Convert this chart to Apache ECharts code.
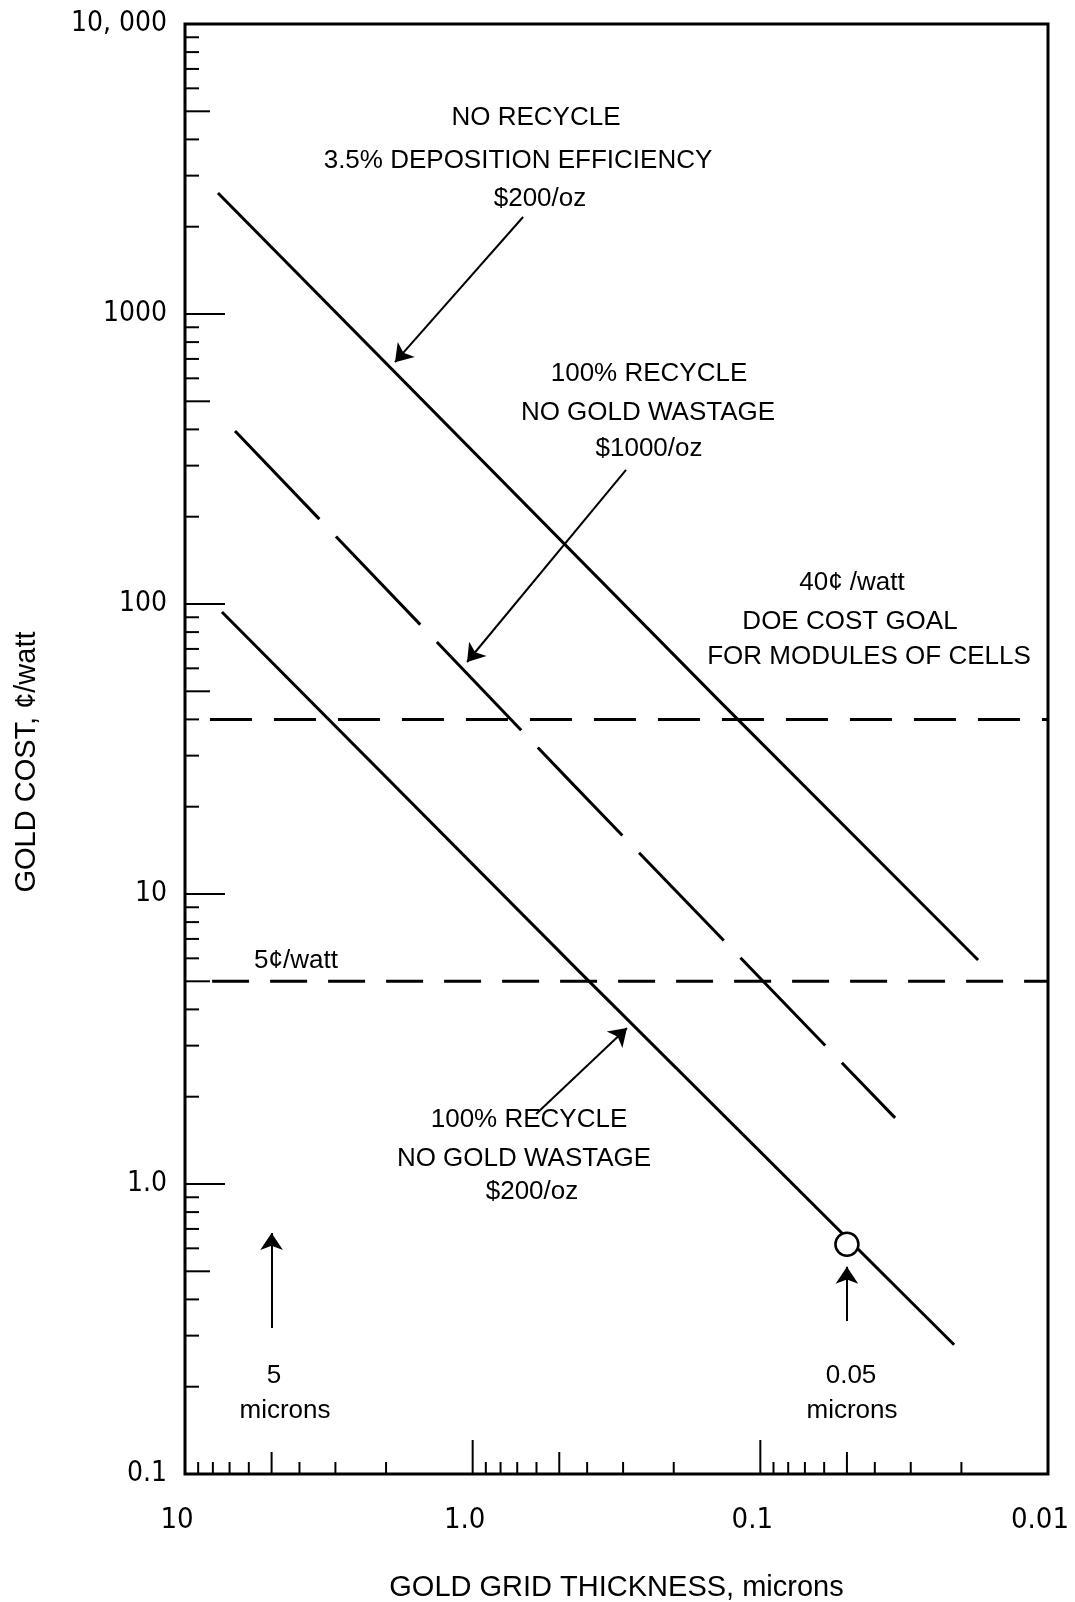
<!DOCTYPE html>
<html>
<head>
<meta charset="utf-8">
<script src="https://cdn.jsdelivr.net/npm/echarts@6/dist/echarts.min.js"></script>
<style>
html,body{margin:0;padding:0;background:#fff;}
#c{width:1075px;height:1602px;}
</style>
</head>
<body>
<div id="c"></div>
<script>
// ---- tick labels ----
const xTickValues = [10, 1, 0.1, 0.01];
const xTickLabels = ['10', '1.0', '0.1', '0.01'];
const yTickValues = [10000, 1000, 100, 10, 1, 0.1];
const yTickLabels = ['10, 000', '1000', '100', '10', '1.0', '0.1'];

// ---- tick marks (drawn on the bottom / left axes) ----
const xMajorTicks = [1, 0.1];
const xHalfTicks = [5, 0.5, 0.05];
const xMinorTicks = [9, 8, 7, 6, 4, 3, 2, 0.9, 0.8, 0.7, 0.6, 0.4, 0.3, 0.2, 0.09, 0.08, 0.07, 0.06, 0.04, 0.03, 0.02];
const yMajorTicks = [1000, 100, 10, 1];
const yHalfTicks = [5000, 500, 50, 5, 0.5];
const yMinorTicks = [9000, 8000, 7000, 6000, 4000, 3000, 2000, 900, 800, 700, 600, 400, 300, 200,
  90, 80, 70, 60, 40, 30, 20, 9, 8, 7, 6, 4, 3, 2, 0.9, 0.8, 0.7, 0.6, 0.4, 0.3, 0.2];

// ---- curves: thickness (microns) vs gold cost (cents/watt) ----
const noRecycleX = [7.68, 0.140, 0.0175];
const noRecycleY = [2613, 46.7, 5.92];
const recycle1000X = [6.70, 0.459, 0.0340];
const recycle1000Y = [395, 24.5, 1.69];
const recycle200X = [7.44, 0.424, 0.0212];
const recycle200Y = [93.8, 5.38, 0.279];

// ---- cost goals (horizontal dashed lines) ----
const goal40X = [8.19, 0.01];
const goal40Y = [40, 40];
const goal5X = [8.05, 0.01];
const goal5Y = [5, 5];

// ---- marked point (0.05 micron) ----
const markedX = [0.05];
const markedY = [0.62];

// ---- arrows: tail -> head ----
const arrowTailX = [0.668, 0.293, 0.602, 5, 0.05];
const arrowTailY = [2160, 290, 1.743, 0.319, 0.337];
const arrowHeadX = [1.862, 1.046, 0.2908, 5, 0.05];
const arrowHeadY = [682, 63.1, 3.45, 0.678, 0.518];

const NARROW = '"Liberation Sans Narrow","Arial Narrow","DejaVu Sans Condensed","Liberation Sans",sans-serif';
const SANS = '"Liberation Sans",Arial,sans-serif';

function labelFor(values, labels) {
  return function (v) {
    for (let i = 0; i < values.length; i++) {
      if (Math.abs(Math.log10(v) - Math.log10(values[i])) < 1e-6) return labels[i];
    }
    return '';
  };
}
function pairs(xs, ys) { return xs.map((x, i) => [x, ys[i]]); }

function tickSeries(axis, values, len) {
  return {
    type: 'custom', coordinateSystem: 'cartesian2d', silent: true, z: 5, clip: false,
    data: values.map(v => axis === 'x' ? [v, 0.1] : [10, v]),
    renderItem: function (params, api) {
      const p = api.coord([api.value(0), api.value(1)]);
      return {
        type: 'line',
        shape: axis === 'x'
          ? { x1: p[0], y1: p[1], x2: p[0], y2: p[1] - len }
          : { x1: p[0], y1: p[1], x2: p[0] + len, y2: p[1] },
        style: { stroke: '#000', lineWidth: 2 }
      };
    }
  };
}

function txt(text, x, y, size, family) {
  return {
    type: 'text', x: x, y: y, silent: true,
    style: { text: text, fill: '#000', fontSize: size, fontFamily: family || SANS, align: 'center', verticalAlign: 'middle' }
  };
}

const chart = echarts.init(document.getElementById('c'), null, { renderer: 'canvas', width: 1075, height: 1602 });

const curveStyle = { color: '#000', width: 3 };

chart.setOption({
  animation: false,
  backgroundColor: '#fff',
  grid: {
    left: 185, right: 27, top: 24, bottom: 128,
    show: true, borderColor: '#000', borderWidth: 3, backgroundColor: 'transparent',
    outerBoundsMode: 'none'
  },
  xAxis: {
    type: 'log', logBase: 10, min: 0.01, max: 10, inverse: true,
    axisLine: { show: false }, axisTick: { show: false }, splitLine: { show: false },
    minorTick: { show: false }, minorSplitLine: { show: false },
    axisLabel: {
      formatter: labelFor(xTickValues, xTickLabels), color: '#000',
      fontFamily: NARROW, fontSize: 29, margin: 32, padding: [0, 16, 0, 0],
      showMinLabel: true, showMaxLabel: true, hideOverlap: false
    },
    name: 'GOLD GRID THICKNESS, microns', nameLocation: 'middle', nameGap: 99,
    nameTextStyle: { color: '#000', fontFamily: SANS, fontSize: 29 }
  },
  yAxis: {
    type: 'log', logBase: 10, min: 0.1, max: 10000,
    axisLine: { show: false }, axisTick: { show: false }, splitLine: { show: false },
    minorTick: { show: false }, minorSplitLine: { show: false },
    axisLabel: {
      formatter: labelFor(yTickValues, yTickLabels), color: '#000',
      fontFamily: NARROW, fontSize: 28, margin: 18,
      showMinLabel: true, showMaxLabel: true, hideOverlap: false
    }
  },
  series: [
    tickSeries('x', xMajorTicks, 34),
    tickSeries('x', xHalfTicks, 22),
    tickSeries('x', xMinorTicks, 12),
    tickSeries('y', yMajorTicks, 40),
    tickSeries('y', yHalfTicks, 25),
    tickSeries('y', yMinorTicks, 14),
    {
      name: 'No recycle, 3.5% deposition efficiency, $200/oz', type: 'line',
      data: pairs(noRecycleX, noRecycleY), showSymbol: false, symbol: 'none',
      lineStyle: curveStyle, z: 3, silent: true
    },
    {
      name: '100% recycle, no gold wastage, $1000/oz', type: 'line',
      data: pairs(recycle1000X, recycle1000Y), showSymbol: false, symbol: 'none',
      lineStyle: { color: '#000', width: 3, type: [122, 24] }, z: 3, silent: true
    },
    {
      name: '100% recycle, no gold wastage, $200/oz', type: 'line',
      data: pairs(recycle200X, recycle200Y), showSymbol: false, symbol: 'none',
      lineStyle: curveStyle, z: 3, silent: true
    },
    {
      name: '40 cents/watt goal', type: 'line',
      data: pairs(goal40X, goal40Y), showSymbol: false, symbol: 'none',
      lineStyle: { color: '#000', width: 3, type: [42, 22] }, z: 2, silent: true
    },
    {
      name: '5 cents/watt', type: 'line',
      data: pairs(goal5X, goal5Y), showSymbol: false, symbol: 'none',
      lineStyle: { color: '#000', width: 3, type: [37, 21] }, z: 2, silent: true
    },
    {
      name: 'arrows', type: 'lines', coordinateSystem: 'cartesian2d', silent: true, z: 6,
      symbol: ['none', 'arrow'], symbolSize: [0, 17],
      lineStyle: { color: '#000', width: 2, opacity: 1, curveness: 0 },
      data: arrowTailX.map((x, i) => ({ coords: [[x, arrowTailY[i]], [arrowHeadX[i], arrowHeadY[i]]] }))
    },
    {
      name: '0.05 micron', type: 'scatter', data: pairs(markedX, markedY),
      symbol: 'circle', symbolSize: 23, silent: true, z: 7,
      itemStyle: { color: '#fff', borderColor: '#000', borderWidth: 2.5, opacity: 1 }
    }
  ],
  graphic: [
    txt('NO RECYCLE', 536, 118, 26),
    txt('3.5% DEPOSITION EFFICIENCY', 518, 161, 26),
    txt('$200/oz', 540, 199, 26),
    txt('100% RECYCLE', 649, 374, 26),
    txt('NO GOLD WASTAGE', 648, 413, 26),
    txt('$1000/oz', 649, 449, 26),
    txt('40¢ /watt', 852, 583, 26),
    txt('DOE COST GOAL', 850, 622, 26),
    txt('FOR MODULES OF CELLS', 869, 657, 26),
    txt('5¢/watt', 296, 961, 26),
    txt('100% RECYCLE', 529, 1120, 26),
    txt('NO GOLD WASTAGE', 524, 1159, 26),
    txt('$200/oz', 532, 1192, 26),
    txt('5', 274, 1376, 26),
    txt('microns', 285, 1411, 26),
    txt('0.05', 851, 1376, 26),
    txt('microns', 852, 1411, 26),
    {
      type: 'text', x: 27, y: 762, rotation: Math.PI / 2, silent: true,
      style: { text: 'GOLD COST, ¢/watt', fill: '#000', fontSize: 29, fontFamily: SANS, align: 'center', verticalAlign: 'middle' }
    }
  ]
});
</script>
</body>
</html>
